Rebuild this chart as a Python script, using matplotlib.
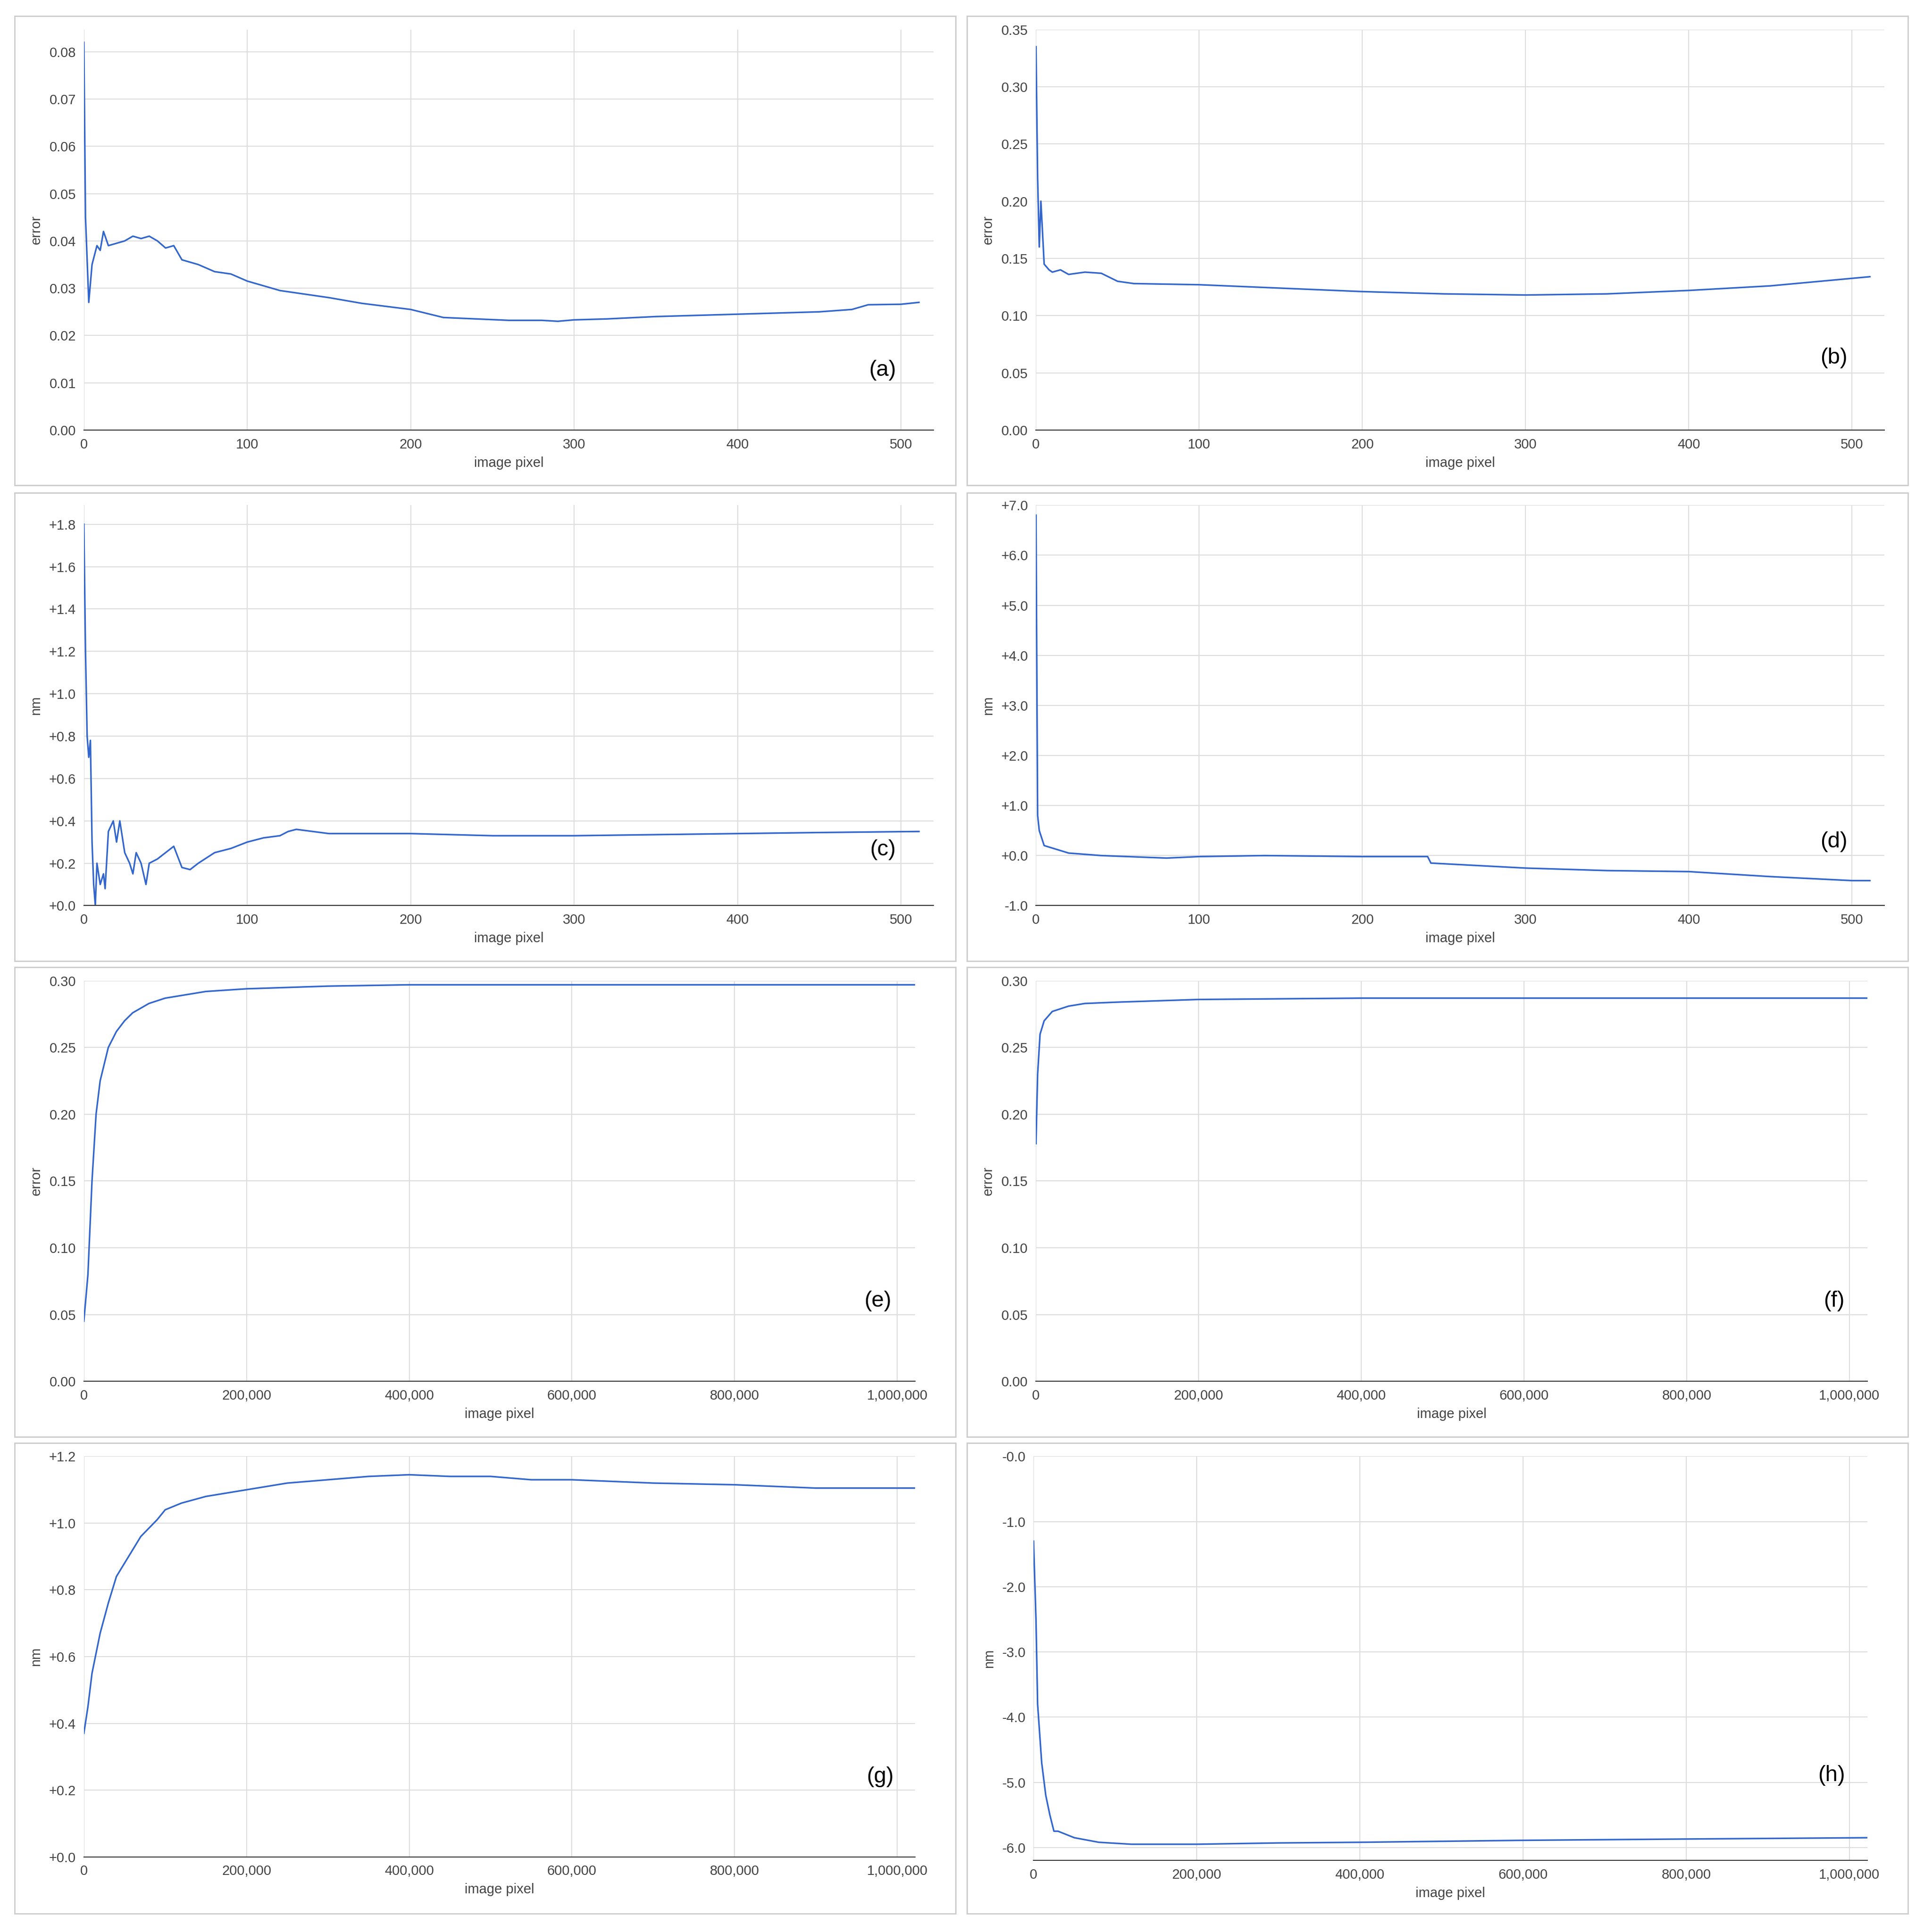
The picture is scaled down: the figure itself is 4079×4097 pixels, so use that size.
import numpy as np
import matplotlib.pyplot as plt
from matplotlib.patches import Rectangle
from matplotlib.ticker import FuncFormatter

plt.rcParams['font.family'] = ['Liberation Sans', 'DejaVu Sans']

# panel (a)
a_x = [0, 1, 3, 5, 8, 10, 12, 15, 20, 25, 30, 35, 40, 45, 50, 55, 60, 70, 80, 90, 100, 110, 120, 130,
       150, 170, 200, 220, 240, 260, 280, 290, 300, 320, 350, 380, 400, 420, 450, 470, 480, 500, 511]
a_y = [0.082, 0.045, 0.027, 0.035, 0.039, 0.038, 0.042, 0.039, 0.0395, 0.040, 0.041, 0.0405, 0.041,
       0.040, 0.0385, 0.039, 0.036, 0.035, 0.0335, 0.033, 0.0315, 0.0305, 0.0295, 0.029, 0.028, 0.0268,
       0.0255, 0.0238, 0.0235, 0.0232, 0.0232, 0.023, 0.0233, 0.0235, 0.024, 0.0243, 0.0245, 0.0247,
       0.025, 0.0255, 0.0265, 0.0266, 0.027]
# panel (b)
b_x = [0, 1, 2, 3, 5, 8, 10, 15, 20, 30, 40, 50, 60, 100, 150, 200, 250, 300, 350, 400, 450, 511]
b_y = [0.335, 0.22, 0.16, 0.20, 0.145, 0.14, 0.138, 0.14, 0.136, 0.138, 0.137, 0.13, 0.128, 0.127,
       0.124, 0.121, 0.119, 0.118, 0.119, 0.122, 0.126, 0.134]
# panel (c)
c_x = [0, 1, 2, 3, 4, 5, 6, 7, 8, 10, 12, 13, 15, 18, 20, 22, 25, 28, 30, 32, 35, 38, 40, 45, 50, 55,
       60, 65, 70, 80, 90, 100, 110, 120, 125, 130, 150, 200, 250, 300, 350, 400, 450, 511]
c_y = [1.8, 1.2, 0.8, 0.7, 0.78, 0.3, 0.1, 0.0, 0.2, 0.1, 0.15, 0.08, 0.35, 0.4, 0.3, 0.4, 0.25, 0.2,
       0.15, 0.25, 0.2, 0.1, 0.2, 0.22, 0.25, 0.28, 0.18, 0.17, 0.2, 0.25, 0.27, 0.3, 0.32, 0.33, 0.35,
       0.36, 0.34, 0.34, 0.33, 0.33, 0.335, 0.34, 0.345, 0.35]
# panel (d)
d_x = [0, 1, 2, 3, 5, 10, 20, 40, 80, 100, 140, 200, 240, 242, 300, 350, 400, 450, 500, 511]
d_y = [6.8, 0.8, 0.5, 0.4, 0.2, 0.15, 0.05, 0.0, -0.05, -0.02, 0.0, -0.02, -0.02, -0.15, -0.25,
       -0.3, -0.32, -0.42, -0.5, -0.5]
# panel (e)
e_x = [0, 5e3, 10e3, 15e3, 20e3, 30e3, 40e3, 50e3, 60e3, 80e3, 100e3, 150e3, 200e3, 300e3, 400e3,
       600e3, 1.022e6]
e_y = [0.045, 0.08, 0.15, 0.2, 0.225, 0.25, 0.262, 0.27, 0.276, 0.283, 0.287, 0.292, 0.294, 0.296,
       0.297, 0.297, 0.297]
# panel (f)
f_x = [0, 2e3, 5e3, 10e3, 20e3, 40e3, 60e3, 100e3, 200e3, 400e3, 1.022e6]
f_y = [0.178, 0.23, 0.26, 0.27, 0.277, 0.281, 0.283, 0.284, 0.286, 0.287, 0.287]
# panel (g)
g_x = [0, 5e3, 10e3, 20e3, 30e3, 40e3, 50e3, 70e3, 90e3, 100e3, 120e3, 150e3, 200e3, 250e3, 300e3,
       350e3, 400e3, 450e3, 500e3, 550e3, 600e3, 700e3, 800e3, 900e3, 1.022e6]
g_y = [0.37, 0.45, 0.55, 0.67, 0.76, 0.84, 0.88, 0.96, 1.01, 1.04, 1.06, 1.08, 1.10, 1.12, 1.13,
       1.14, 1.145, 1.14, 1.14, 1.13, 1.13, 1.12, 1.115, 1.105, 1.105]
# panel (h)
h_x = [0, 3e3, 5e3, 10e3, 15e3, 20e3, 25e3, 30e3, 50e3, 80e3, 120e3, 200e3, 300e3, 400e3, 600e3,
       800e3, 1.022e6]
h_y = [-1.3, -2.5, -3.8, -4.7, -5.2, -5.5, -5.75, -5.75, -5.85, -5.92, -5.95, -5.95, -5.93, -5.92,
       -5.89, -5.87, -5.85]

W, H = 1560.0, 1568.0
fig = plt.figure(figsize=(40.79, 40.97), dpi=100)
line_color = '#3366cc'
grid_color = '#dddddd'
txt_color = '#444444'

# panel borders (display px)
for (x0, x1) in [(12, 775), (784, 1547)]:
    for (y0, y1) in [(13, 394), (400, 780), (785, 1166), (1171, 1553)]:
        fig.patches.append(Rectangle((x0 / W, 1 - y1 / H), (x1 - x0) / W, (y1 - y0) / H,
                                     transform=fig.transFigure, fill=False,
                                     edgecolor='#cccccc', linewidth=2))


def signed_fmt(neg_zero):
    def f(v, p):
        v = round(v, 6)
        if abs(v) < 1e-9:
            return '-0.0' if neg_zero else '+0.0'
        return f'{v:+.1f}'
    return f


panels = [
    (a_x, a_y, 'a', (68, 757, 24, 349), (0, 520), (0, 0.0847), np.arange(0, 0.081, 0.01), 'error', 'plain2', (0.94, 0.15)),
    (b_x, b_y, 'b', (840, 1528, 24, 349), (0, 520), (0, 0.35), np.arange(0, 0.351, 0.05), 'error', 'plain2', (0.94, 0.18)),
    (c_x, c_y, 'c', (68, 757, 410, 735), (0, 520), (0, 1.89), np.arange(0, 1.81, 0.2), 'nm', 'sign1', (0.94, 0.14)),
    (d_x, d_y, 'd', (840, 1528, 410, 735), (0, 520), (-1, 7), np.arange(-1, 7.1, 1), 'nm', 'sign1', (0.94, 0.16)),
    (e_x, e_y, 'e', (68, 742, 796, 1121), (0, 1.022e6), (0, 0.30), np.arange(0, 0.301, 0.05), 'error', 'plain2', (0.955, 0.2)),
    (f_x, f_y, 'f', (840, 1514, 796, 1121), (0, 1.022e6), (0, 0.30), np.arange(0, 0.301, 0.05), 'error', 'plain2', (0.96, 0.2)),
    (g_x, g_y, 'g', (68, 742, 1182, 1507), (0, 1.022e6), (0, 1.2), np.arange(0, 1.21, 0.2), 'nm', 'sign1', (0.958, 0.2)),
    (h_x, h_y, 'h', (838, 1514, 1182, 1510), (0, 1.022e6), (-6.2, 0), np.arange(-6, 0.1, 1), 'nm', 'sign1', (0.957, 0.21)),
]

for x, y, letter, (l, r, t, b), xl, yl, yt, ylab, fmt, lpos in panels:
    ax = fig.add_axes([l / W, 1 - b / H, (r - l) / W, (b - t) / H])
    ax.plot(x, y, color=line_color, linewidth=2.4)
    ax.set_xlim(*xl)
    ax.set_ylim(*yl)
    ax.set_yticks(yt)
    if fmt == 'plain2':
        ax.yaxis.set_major_formatter(FuncFormatter(lambda v, p: f'{v:.2f}'))
    else:
        ax.yaxis.set_major_formatter(FuncFormatter(signed_fmt(letter == 'h')))
    if xl[1] > 1000:
        ax.set_xticks(np.arange(0, 1.0e6 + 1, 2e5))
        ax.xaxis.set_major_formatter(FuncFormatter(lambda v, p: f'{int(v):,}'))
    else:
        ax.set_xticks(np.arange(0, 501, 100))
    ax.grid(True, color=grid_color, linewidth=1.5)
    ax.set_axisbelow(True)
    for s in ['top', 'right', 'left']:
        ax.spines[s].set_visible(False)
    ax.spines['bottom'].set_color('#333333')
    ax.spines['bottom'].set_linewidth(1.5)
    ax.tick_params(length=0, labelsize=21, labelcolor=txt_color, pad=12)
    ax.set_xlabel('image pixel', fontsize=21, color=txt_color, labelpad=8)
    ax.set_ylabel(ylab, fontsize=21, color=txt_color, labelpad=10)
    ax.text(lpos[0], lpos[1], f'({letter})', transform=ax.transAxes, fontsize=34,
            ha='center', va='center')

fig.savefig('out.png', dpi=100, facecolor='white')
